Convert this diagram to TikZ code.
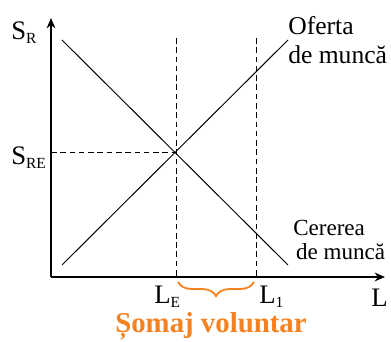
\documentclass[tikz,border=0pt]{standalone}
\usepackage{fontspec}
\setmainfont{Liberation Serif}
\usetikzlibrary{arrows.meta, positioning, decorations.pathreplacing}
\definecolor{somaj}{RGB}{245,130,32}
\newcommand{\lowidx}[1]{\raisebox{-0.25ex}{\fontsize{11}{11}\selectfont #1}}
\tikzset{
  axis/.style={line width=0.8pt, -{Stealth[length=2.6mm, width=2.2mm]}},
  curve/.style={line width=0.7pt},
  guide/.style={line width=0.7pt, dash pattern=on 4pt off 2.6pt},
  lbl/.style={font=\fontsize{19}{22}\selectfont, inner sep=0pt, anchor=base west},
  note/.style={font=\fontsize{18.2}{20.6}\selectfont, inner sep=0pt, align=left, anchor=north west},
  brace/.style={decorate, decoration={brace, mirror, amplitude=10pt}, draw=somaj, line width=1.3pt},
}

\begin{document}
\begin{tikzpicture}[x=0.025cm, y=0.025cm]
  \useasboundingbox (0,0) rectangle (391,342);
  % axes
  \coordinate (o) at (51,65);
  \coordinate (ytop) at (51,324);
  \coordinate (xend) at (385,65);
  \draw[axis] (o) -- (ytop);
  \draw[axis] (o) -- (xend);
  % curves
  \coordinate (d1) at (62,302);
  \coordinate (d2) at (288,77);
  \coordinate (s1) at (62,77);
  \coordinate (s2) at (288,302);
  \coordinate (e) at (176,190);
  \draw[curve] (d1) -- (d2);
  \draw[curve] (s1) -- (s2);
  % guides
  \coordinate (etop) at (176,304);
  \coordinate (ebot) at (176,65);
  \coordinate (ltop) at (256,304);
  \coordinate (lbot) at (256,65);
  \coordinate (sre) at (51,190);
  \draw[guide] (etop) -- (ebot);
  \draw[guide] (ltop) -- (lbot);
  \draw[guide] (sre) -- (e);
  % labels
  \node[lbl] (sr) at (11,302) {S\lowidx{R}};
  \node[lbl] (srelbl) at (11,177) {S\lowidx{RE}};
  \node[lbl] (le) at (154,38) {L\lowidx{E}};
  \node[lbl] (l1) at (259,38) {L\lowidx{1}};
  \node[lbl] (l) at (371,35) {L};
  \node[note] (oferta) at (288,326) {Oferta\\de muncă};
  \node[note, font=\fontsize{16.4}{17}\selectfont] (cererea) at (293,122) {Cererea\\\hspace*{2pt}de muncă};
  % brace
  \coordinate (b1) at (178,60);
  \coordinate (b2) at (254,60);
  \draw[brace] (b1) -- (b2);
  \node[font=\bfseries\fontsize{20.5}{22}\selectfont, text=somaj, inner sep=0pt, anchor=base] (somaj) at (211,9) {Șomaj voluntar};
\end{tikzpicture}
\end{document}
